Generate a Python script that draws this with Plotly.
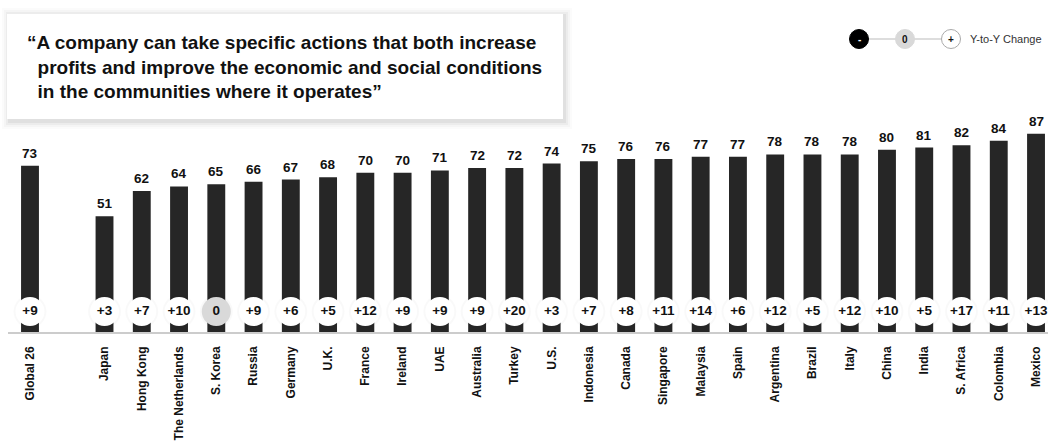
import plotly.graph_objects as go

categories = ["Global 26", "Japan", "Hong Kong", "The Netherlands", "S. Korea", "Russia",
              "Germany", "U.K.", "France", "Ireland", "UAE", "Australia", "Turkey", "U.S.",
              "Indonesia", "Canada", "Singapore", "Malaysia", "Spain", "Argentina", "Brazil",
              "Italy", "China", "India", "S. Africa", "Colombia", "Mexico"]
values = [73, 51, 62, 64, 65, 66, 67, 68, 70, 70, 71, 72, 72, 74, 75, 76, 76, 77, 77, 78,
          78, 78, 80, 81, 82, 84, 87]
changes = [9, 3, 7, 10, 0, 9, 6, 5, 12, 9, 9, 9, 20, 3, 7, 8, 11, 14, 6, 12, 5, 12, 10,
           5, 17, 11, 13]
title_lines = ["\u201cA company can take specific actions that both increase",
               "&nbsp;&nbsp;profits and improve the economic and social conditions",
               "&nbsp;&nbsp;in the communities where it operates\u201d"]

W, H = 1048, 443
BASE = 333          # pixel row of the baseline
PXU = 2.29          # pixels per value unit
X0, STEP = 30, 37.26

# position: global first, gap of one slot, then countries
xpos = [0] + [i + 2 for i in range(len(categories) - 1)]

FONT = "Liberation Sans, Arial, sans-serif"
DARK = "#262626"

def px(x):
    return x / W

def py(y):
    return (BASE - y) / BASE

fig = go.Figure()

fig.add_trace(go.Bar(x=xpos, y=values, width=0.48, marker=dict(color=DARK, line=dict(width=0)),
                     hoverinfo="skip"))

circle_y = (BASE - 311.5) / PXU
change_text = [("+%d" % c) if c > 0 else ("%d" % c) for c in changes]
fill = ["#d9d9d9" if c == 0 else "#ffffff" for c in changes]
fig.add_trace(go.Scatter(x=xpos, y=[circle_y] * len(xpos), mode="markers",
                         marker=dict(size=33, color="rgba(0,0,0,0.025)", line=dict(width=0)),
                         hoverinfo="skip"))
fig.add_trace(go.Scatter(x=xpos, y=[circle_y] * len(xpos), mode="markers+text",
                         marker=dict(size=29, color=fill, line=dict(width=0)),
                         text=change_text, textposition="middle center",
                         textfont=dict(family=FONT, size=13.5, color="#111", weight="bold"),
                         hoverinfo="skip"))

for x, v in zip(xpos, values):
    fig.add_annotation(x=x, y=v, text=str(v), showarrow=False, yanchor="bottom", yshift=3,
                       font=dict(family=FONT, size=13.5, color="#111", weight="bold"))

# baseline
fig.add_shape(type="line", xref="paper", yref="paper", x0=px(8), x1=1, y0=0, y1=0,
              line=dict(color="#cccccc", width=2))

# title box with soft shadow (offset right/down)
for d, a in [(8, 0.015), (6, 0.025), (4, 0.035), (2, 0.05)]:
    fig.add_shape(type="rect", xref="paper", yref="paper", layer="above",
                  x0=px(8 - d + 2), x1=px(563 + d + 1), y0=py(120 + d + 1), y1=py(14 - d + 2),
                  fillcolor="rgba(0,0,0,%s)" % a, line=dict(width=0))
fig.add_shape(type="rect", xref="paper", yref="paper", layer="above",
              x0=px(7), x1=px(563), y0=py(119), y1=py(14),
              fillcolor="white", line=dict(width=0))
fig.add_annotation(xref="paper", yref="paper", x=px(25), y=py(30), xanchor="left", yanchor="top",
                   align="left", showarrow=False, text="<br>".join(title_lines),
                   font=dict(family=FONT, size=19, color="#111", weight="bold"))

# legend
LY = 39
fig.add_shape(type="line", xref="paper", yref="paper", x0=px(859), x1=px(950), y0=py(LY), y1=py(LY),
              line=dict(color="#bbbbbb", width=1))
for cx, fc, lc, t, tc in [(859, "#000000", "#000000", "-", "#ffffff"),
                          (905, "#d9d9d9", "#d9d9d9", "0", "#111111"),
                          (951, "#ffffff", "#aaaaaa", "+", "#111111")]:
    fig.add_shape(type="circle", xref="paper", yref="paper", x0=px(cx - 9.5), x1=px(cx + 9.5),
                  y0=py(LY + 9.5), y1=py(LY - 9.5), fillcolor=fc, line=dict(color=lc, width=1))
    fig.add_annotation(xref="paper", yref="paper", x=px(cx), y=py(LY), text=t, showarrow=False,
                       xanchor="center", yanchor="middle",
                       font=dict(family=FONT, size=10, color=tc, weight="bold"))
fig.add_annotation(xref="paper", yref="paper", x=px(968), y=py(LY), xanchor="left", yanchor="middle",
                   text="Y-to-Y Change", showarrow=False,
                   font=dict(family=FONT, size=11, color="#333"))

fig.update_layout(
    width=W, height=H, margin=dict(l=0, r=0, t=0, b=H - BASE),
    plot_bgcolor="white", paper_bgcolor="white", showlegend=False,
    xaxis=dict(range=[-X0 / STEP, (W - X0) / STEP], tickvals=xpos, ticktext=categories,
               tickangle=-90, showgrid=False, zeroline=False, showline=False,
               ticks="", ticklabelstandoff=10,
               tickfont=dict(family=FONT, size=12, color="#111", weight="bold")),
    yaxis=dict(range=[0, BASE / PXU], visible=False),
)
fig.write_html("out.html")
